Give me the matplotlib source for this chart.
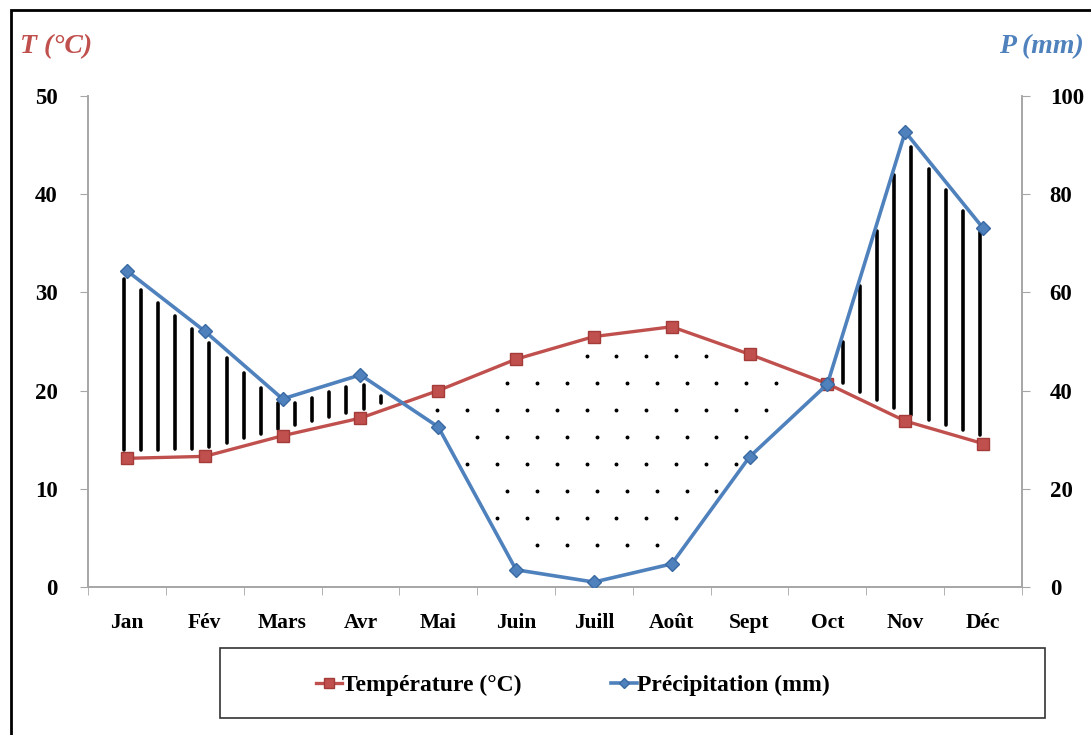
import numpy as np
import matplotlib.pyplot as plt
from matplotlib.patches import Rectangle

months = ["Jan", "Fév", "Mars", "Avr", "Mai", "Juin", "Juill", "Août",
          "Sept", "Oct", "Nov", "Déc"]
temperature = [13.1, 13.3, 15.4, 17.2, 20.0, 23.2, 25.5, 26.5, 23.7, 20.7, 16.9, 14.6]
precipitation = [64.4, 52.1, 38.3, 43.2, 32.6, 3.5, 1.0, 4.7, 26.5, 41.3, 92.7, 73.1]

red = "#C0504D"
blue = "#4F81BD"
grey = "#A6A6A6"

plt.rcParams["font.family"] = ["Liberation Serif", "DejaVu Serif"]
plt.rcParams["font.weight"] = "bold"

fig = plt.figure(figsize=(10.91, 7.35), dpi=100)
ax = fig.add_axes([0.0807, 0.2014, 0.856, 0.668])
ax2 = ax.twinx()

x = np.arange(len(months))
T = np.array(temperature)
P_half = np.array(precipitation) / 2.0

# humid period: vertical strokes between the curves where P > 2T
xs = np.arange(-0.04, 11.0, 0.22)
t_at = np.interp(xs, x, T)
p_at = np.interp(xs, x, P_half)
gap = 0.8
for xi, lo, hi in zip(xs, t_at, p_at):
    if hi - lo > 2 * gap:
        ax.plot([xi, xi], [lo + gap, hi - gap], color="black", lw=2.6,
                solid_capstyle="round", zorder=2)

# dry period: dotted fill where T > P/2
dx, dy = 0.385, 2.75
rows = np.arange(1.5, 27, dy)
for k, yv in enumerate(rows):
    offset = 0.13 if k % 2 else 0.0
    for xv in np.arange(3.98 + offset, 9.5, dx):
        t = np.interp(xv, x, T)
        p = np.interp(xv, x, P_half)
        if p + 0.9 < yv < t - 0.9:
            ax.plot(xv, yv, "o", color="black", ms=1.8, zorder=2)

ax.plot(x, temperature, color=red, lw=2.4, marker="s", ms=9,
        markerfacecolor=red, markeredgecolor="#A33B38", zorder=4,
        label="Température (°C)")
ax2.plot(x, precipitation, color=blue, lw=2.6, marker="D", ms=7,
         markerfacecolor=blue, markeredgecolor="#3A6AA3", zorder=4,
         label="Précipitation (mm)")

ax.set_xlim(-0.5, 11.5)
ax.set_ylim(0, 50)
ax2.set_ylim(0, 100)
ax.set_yticks(range(0, 51, 10))
ax2.set_yticks(range(0, 101, 20))
ax.set_xticks(x)
ax.set_xticklabels(months)
ax.set_xticks(np.arange(-0.5, 12, 1), minor=True)

for a in (ax, ax2):
    a.spines["top"].set_visible(False)
    for s in ("left", "right", "bottom"):
        a.spines[s].set_color(grey)
        a.spines[s].set_linewidth(1.2)

ax.tick_params(axis="x", which="major", length=0, pad=19, labelsize=15.5)
ax.tick_params(axis="x", which="minor", length=6, color=grey, direction="out")
ax.tick_params(axis="y", length=6, color=grey, pad=16, labelsize=16.5)
ax2.tick_params(axis="y", length=6, color=grey, pad=14, labelsize=16.5)

fig.text(0.018, 0.936, "T (°C)", color=red, fontsize=20, style="italic",
         weight="bold", ha="left", va="center")
fig.text(0.916, 0.936, "P (mm)", color=blue, fontsize=20, style="italic",
         weight="bold", ha="left", va="center")

# legend box under the plot
fig.patches.append(Rectangle((0.2017, 0.0231), 0.756, 0.0952, transform=fig.transFigure,
                             fill=False, edgecolor="#333333", lw=1.2))
h1, l1 = ax.get_legend_handles_labels()
h2, l2 = ax2.get_legend_handles_labels()
fig.legend(h1 + h2, l1 + l2, loc="center", bbox_to_anchor=(0.525, 0.068),
           ncol=2, frameon=False, fontsize=17, handlelength=1.1,
           handletextpad=0.0, columnspacing=3.8, markerscale=0.8)

# outer frame
fig.patches.append(Rectangle((0.0105, -0.05), 1.05, 0.9864 + 0.05,
                             transform=fig.transFigure, fill=False,
                             edgecolor="black", lw=2))

fig.savefig("out.png", dpi=100)
